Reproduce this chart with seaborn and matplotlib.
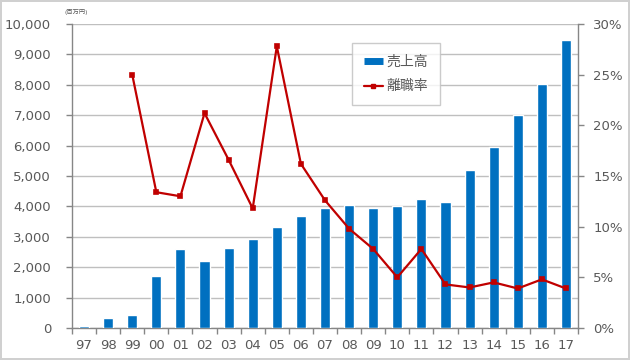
import numpy as np
import matplotlib
matplotlib.use('Agg')
import matplotlib.pyplot as plt
from matplotlib.lines import Line2D
from matplotlib.ticker import FuncFormatter, MultipleLocator
import seaborn as sns

# データ
years = ['97', '98', '99', '00', '01', '02', '03', '04', '05', '06', '07',
         '08', '09', '10', '11', '12', '13', '14', '15', '16', '17']
sales = [50, 330, 420, 1710, 2600, 2200, 2630, 2920, 3320, 3670, 3960,
         4050, 3960, 4010, 4230, 4140, 5190, 5940, 7010, 8030, 9480]
turnover = [np.nan, np.nan, 25.0, 13.4, 13.0, 21.2, 16.6, 11.8, 27.8, 16.2, 12.6,
            9.8, 7.8, 5.0, 7.8, 4.3, 4.0, 4.5, 3.9, 4.8, 3.9]

sns.set_style('white')
plt.rcParams['font.family'] = ['DejaVu Sans', 'Noto Sans CJK JP']

gray = '#595959'
grid_c = '#BFBFBF'
axis_c = '#868686'
bar_c = '#0070C0'
line_c = '#C00000'

fig = plt.figure(figsize=(6.3, 3.6), dpi=100)
fig.patch.set_edgecolor('#D0D0D0')
fig.patch.set_linewidth(1.5)
ax = fig.add_axes([72 / 630, 1 - 328 / 360, 506 / 630, 304 / 360])

sns.barplot(x=years, y=sales, order=years, color=bar_c, width=0.42,
            saturation=1, ax=ax, zorder=3)
ax.set_ylim(0, 10000)
ax.set_xlim(-0.5, len(years) - 0.5)
ax.yaxis.set_major_locator(MultipleLocator(1000))
ax.yaxis.set_major_formatter(FuncFormatter(lambda v, p: f'{int(v):,}'))
ax.grid(axis='y', color=grid_c, linewidth=1, zorder=0)
ax.set_axisbelow(True)

ax2 = ax.twinx()
sns.pointplot(x=years, y=turnover, order=years, color=line_c, markers='s',
              markersize=3.5, linewidth=1.6, ax=ax2, zorder=4)
ax2.set_ylim(0, 30)
ax2.set_xlim(-0.5, len(years) - 0.5)
ax2.yaxis.set_major_locator(MultipleLocator(5))
ax2.yaxis.set_major_formatter(FuncFormatter(lambda v, p: f'{int(v)}%'))

for a in (ax, ax2):
    a.set_xlabel('')
    a.set_ylabel('')
    a.spines['top'].set_visible(False)
    for s in ('left', 'right', 'bottom'):
        a.spines[s].set_color(axis_c)
        a.spines[s].set_linewidth(1)

ax.spines['right'].set_visible(False)
ax2.spines['left'].set_visible(False)
ax2.spines['bottom'].set_visible(False)
ax.tick_params(axis='y', left=True, right=False, colors=axis_c, labelcolor=gray,
               labelsize=9.5, length=4, width=1, direction='out', pad=11)
ax2.tick_params(axis='y', right=True, left=False, colors=axis_c, labelcolor=gray,
                labelsize=9.5, length=4, width=1, direction='out', pad=7)

# x軸: 区切りの目盛り
ax.set_xticks(range(len(years)))
ax.set_xticklabels(years)
ax.set_xticks(np.arange(-0.5, len(years), 1), minor=True)
ax.tick_params(axis='x', which='major', length=0, labelcolor=gray,
               labelsize=9.5, pad=8)
ax.tick_params(axis='x', which='minor', length=4, color=axis_c,
               width=1, direction='out', bottom=True)
ax2.tick_params(axis='x', which='both', bottom=False, top=False,
                labelbottom=False, labeltop=False)

fig.text(76 / 630, 1 - 12 / 360, '(百万円)', fontsize=4.5, color=gray,
         ha='center', va='center')

handles = [Line2D([], [], color=bar_c, linewidth=5, solid_capstyle='butt'),
           Line2D([], [], color=line_c, linewidth=1.6, marker='s', markersize=3.5)]
leg = ax2.legend(handles, ['売上高', '離職率'], loc='upper left',
                 bbox_to_anchor=(0.553, 0.937), fontsize=10, frameon=True,
                 fancybox=False, edgecolor='#BFBFBF', labelspacing=0.75,
                 handlelength=1.4, handletextpad=0.25, borderpad=0.85,
                 borderaxespad=0)
for t in leg.get_texts():
    t.set_color(gray)
leg.get_frame().set_linewidth(1)

fig.savefig('out.png', dpi=100)
